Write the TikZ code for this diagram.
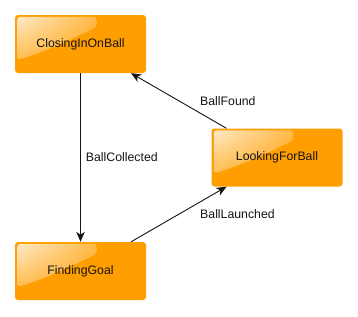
\documentclass[tikz,border=0pt]{standalone}
\usepackage{fontspec}
\setmainfont{Liberation Sans}
\usetikzlibrary{arrows.meta,shadings}
\definecolor{stateorange}{RGB}{255,158,0}
\definecolor{edgegray}{RGB}{20,20,20}
\begin{document}
\begin{tikzpicture}
[x=1pt,y=-1pt,
  statedecorate/.style={shape=rectangle,rounded corners=3pt,fill=stateorange,
    minimum width=131pt,minimum height=58pt,inner sep=0pt,
    font=\fontsize{12.3}{14}\selectfont,text=edgegray},
  glossdecorate/.style={rounded corners=3pt,
    upper left=stateorange!22!white, upper right=stateorange!72!white,
    lower left=stateorange!68!white, lower right=stateorange!90!white},
  arrowdecorate/.style={->,>={Stealth[length=10pt,width=8.5pt,inset=3pt]},
    draw=edgegray,line width=0.9pt},
  labeldecorate/.style={anchor=west,inner sep=0pt,
    font=\fontsize{12.3}{14}\selectfont,text=edgegray}]
\useasboundingbox (0,0) rectangle (358,316);
%% states, each with a gloss in its upper left part
\foreach \nodename/\x/\y/\statetext in {closing/80.5/44/ClosingInOnBall,
  looking/277/157.5/LookingForBall, finding/80.5/271/FindingGoal} {
  \node (\nodename) at (\x,\y) [statedecorate] {};
  \shade[glossdecorate]
    ([xshift=2.5pt,yshift=-45pt]\nodename.north west)
    -- ([xshift=2.5pt,yshift=-2pt]\nodename.north west)
    -- ([xshift=82pt,yshift=-2pt]\nodename.north west)
    -- ([xshift=82pt,yshift=-12pt]\nodename.north west)
    .. controls ([xshift=62pt,yshift=-22pt]\nodename.north west)
    and ([xshift=28pt,yshift=-38pt]\nodename.north west) .. cycle;
  \node [statedecorate,fill=none] at (\nodename) {\statetext};
}
%% transitions
\path
\foreach \startnode/\endnode/\edgelabel/\labelshift in {closing/finding/BallCollected/5,
  looking/closing/BallFound/21, finding/looking/BallLaunched/21} {
  (\startnode) edge[arrowdecorate] node[labeldecorate,xshift=\labelshift pt] {\edgelabel} (\endnode)
};
\end{tikzpicture}
\end{document}
